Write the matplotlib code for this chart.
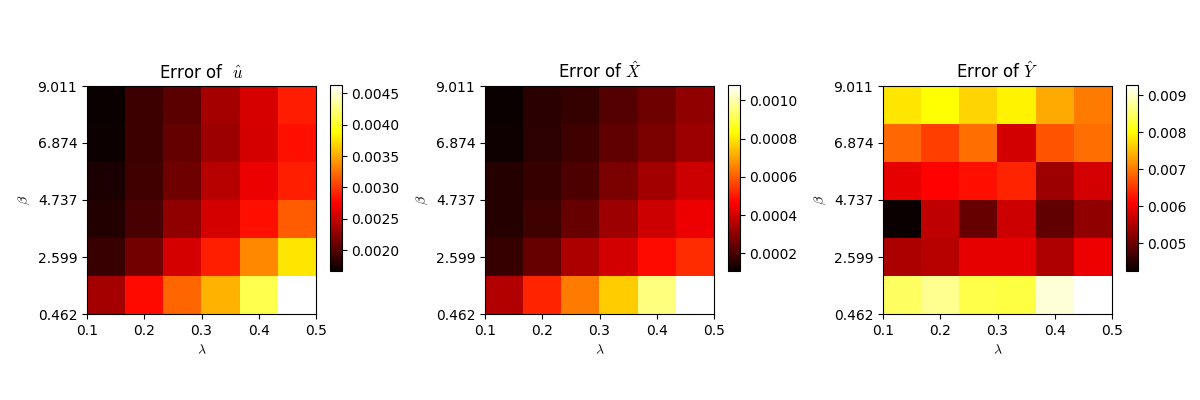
import numpy as np
import matplotlib
matplotlib.use("Agg")
import matplotlib.pyplot as plt

plt.rcParams["mathtext.fontset"] = "cm"

# grid of parameters
lam_range = [0.1, 0.5]
beta_range = [0.462, 9.011]
beta_ticks = [0.462, 2.599, 4.737, 6.874, 9.011]
beta_labels = ["0.462", "2.599", "4.737", "6.874", "9.011"]
lam_ticks = [0.1, 0.2, 0.3, 0.4, 0.5]

# errors, rows from top (beta = 9.011) to bottom (beta = 0.462), cols lambda 0.1 -> 0.5
err_u = [
    [0.00168, 0.00190, 0.00204, 0.00236, 0.00259, 0.00288],
    [0.00170, 0.00191, 0.00208, 0.00233, 0.00257, 0.00283],
    [0.00175, 0.00192, 0.00212, 0.00245, 0.00268, 0.00289],
    [0.00179, 0.00196, 0.00227, 0.00257, 0.00283, 0.00316],
    [0.00189, 0.00215, 0.00257, 0.00289, 0.00336, 0.00377],
    [0.00236, 0.00280, 0.00321, 0.00354, 0.00410, 0.00463],
]

err_x = [
    [0.000111, 0.000160, 0.000174, 0.000218, 0.000257, 0.000305],
    [0.000121, 0.000164, 0.000189, 0.000237, 0.000276, 0.000324],
    [0.000150, 0.000179, 0.000208, 0.000276, 0.000334, 0.000392],
    [0.000150, 0.000189, 0.000247, 0.000324, 0.000392, 0.000441],
    [0.000179, 0.000247, 0.000344, 0.000402, 0.000480, 0.000528],
    [0.000354, 0.000518, 0.000645, 0.000761, 0.000955, 0.001081],
]

err_y = [
    [0.00782, 0.00802, 0.00767, 0.00792, 0.00737, 0.00702],
    [0.00687, 0.00657, 0.00692, 0.00577, 0.00672, 0.00692],
    [0.00592, 0.00612, 0.00622, 0.00637, 0.00537, 0.00577],
    [0.00427, 0.00562, 0.00497, 0.00572, 0.00492, 0.00527],
    [0.00547, 0.00557, 0.00592, 0.00592, 0.00552, 0.00597],
    [0.00847, 0.00872, 0.00837, 0.00832, 0.00907, 0.00927],
]

titles = [r"Error of  $\hat{u}$", r"Error of $\hat{X}$", r"Error of $\hat{Y}$"]
errors = [err_u, err_x, err_y]

fig = plt.figure(figsize=(12, 4), dpi=100)

for i, (err, title) in enumerate(zip(errors, titles)):
    x0 = 87 + 398 * i
    ax = fig.add_axes([x0 / 1200, 86 / 400, 229 / 1200, 228 / 400])
    cax = fig.add_axes([(x0 + 243) / 1200, 129.5 / 400, 11.5 / 1200, 185.5 / 400])

    im = ax.imshow(np.array(err), cmap="hot", aspect="auto",
                   extent=[lam_range[0], lam_range[1], beta_range[0], beta_range[1]])
    ax.set_xticks(lam_ticks)
    ax.set_yticks(beta_ticks)
    ax.set_yticklabels(beta_labels)
    ax.set_xlabel(r"$\lambda$")
    ax.set_ylabel(r"$\beta$")
    ax.set_title(title)
    fig.colorbar(im, cax=cax)

plt.savefig("out.png", dpi=100)
